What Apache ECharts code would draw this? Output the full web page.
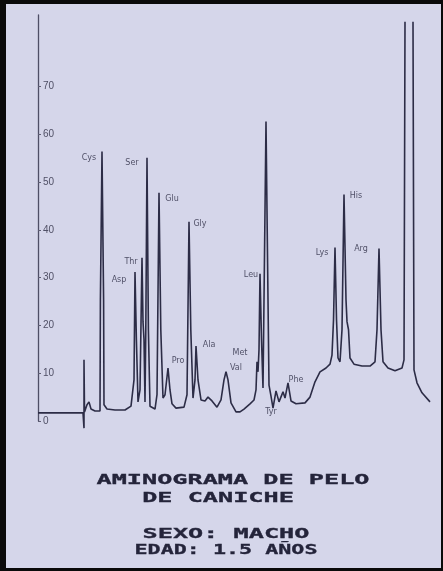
<!DOCTYPE html>
<html>
<head>
<meta charset="utf-8">
<script src="https://cdn.jsdelivr.net/npm/echarts@6/dist/echarts.min.js"></script>
<style>
html,body{margin:0;padding:0;background:#d5d6ea;}
#c{width:443px;height:571px;}
</style>
</head>
<body>
<div id="c"></div>
<script>
// Retention position (arbitrary units) and detector signal
const traceTime = [0,11.25,11.5,11.5,11.63,12.25,12.75,13.25,14.25,15.5,15.6,16,16.4,16.5,17.25,19.25,21.75,23.25,24,24.25,24.6,25,25.5,26,26.25,26.5,26.75,26.95,27.25,27.6,28,29.25,29.75,30.25,30.7,31.25,31.75,32.5,33,33.5,34.5,36.5,37.25,37.75,38.2,38.75,39.25,39.5,40,40.75,41.75,42.5,43.5,44.75,45.75,46.5,47,47.5,48.25,49.5,50.5,51.5,53,54,54.5,54.75,55,55.25,55.5,55.88,56.25,56.5,57,57.5,57.75,58.25,58.75,59.5,60.25,61.25,61.75,62.5,63.25,64.5,66.75,68,69.25,70.5,72,73,73.5,73.88,74.25,74.63,75,75.5,76,76.5,77,77.25,77.63,78,79,81,83,84.25,84.75,85.25,85.75,86.25,87.5,89.25,91,91.5,91.75,92.75,93.75,94,94.75,96,98];
const traceSignal = [1.7,1.7,-1.5,12.8,1.9,3.4,4.0,2.5,2.1,2.1,25.4,56.4,25.4,3.4,2.5,2.3,2.3,3.1,8.6,31.2,17,4.0,6.5,34.2,20.8,17.0,4.0,19.1,55.1,19.1,3.1,2.5,5.5,47.8,19.1,4.8,5.5,11.1,6.5,3.6,2.7,2.9,5.5,41.7,19.1,4.8,8.6,15.7,8.6,4.4,4.2,5.0,4.2,2.9,4.4,8.6,10.3,8.6,3.8,1.9,1.9,2.5,3.6,4.4,6.5,12.4,10.3,14.9,30.8,17,6.9,25.4,62.7,25.4,7.5,5.2,2.7,6.3,4.0,6.1,4.8,8.0,4.2,3.6,3.8,5.0,8.2,10.3,11.1,11.9,13.8,21.2,36.3,21.2,13.2,12.4,19.1,47.4,25.4,20.8,19.1,13.2,11.9,11.5,11.5,12.4,19.1,36.1,19.1,12.4,11.1,10.5,11.1,12.8,83.6,null,83.6,10.7,8.0,5.9,4.0];

// Peak annotations (amino acid names) and their anchor points in data units
const peakNames = ['Cys','Ser','Glu','Gly','Thr','Asp','Pro','Ala','Met','Val','Leu','Tyr','Phe','Lys','His','Arg'];
const peakLabelTime = [12.75,23.5,33.5,40.5,23.25,20.25,35,42.75,50.5,49.5,53.25,58.25,64.5,71,79.5,80.75];
const peakLabelSignal = [55.1,54.1,46.5,41.3,33.3,29.6,12.6,15.9,14.3,11.1,30.6,2.0,8.6,35.2,47.2,36.1];

const yTicks = [0,10,20,30,40,50,60,70];
const titleLines = ['AMINOGRAMA DE PELO','DE CANICHE','SEXO: MACHO','EDAD: 1.5 AÑOS'];

const lineData = traceTime.map((t,i)=> traceSignal[i]===null ? [t,null] : [t,traceSignal[i]]);
const labelData = peakNames.map((n,i)=>[peakLabelTime[i],peakLabelSignal[i],n]);

const chart = echarts.init(document.getElementById('c'), null, {renderer:'canvas'});
const titleFont = 'bold 14px "DejaVu Sans Mono"';
const titleFill = '#24243a';
function titleText(i,x,y,sx){
  return {type:'text',x:x,y:y,scaleX:sx,style:{text:titleLines[i],x:0,y:0,textAlign:'center',textVerticalAlign:'middle',align:'center',verticalAlign:'middle',font:titleFont,fill:titleFill,stroke:titleFill,lineWidth:0.3}};
}
chart.setOption({
  backgroundColor:'#d5d6ea',
  animation:false,
  grid:{left:38,right:5,top:15,bottom:150,containLabel:false},
  xAxis:{type:'value',min:0,max:100,show:false},
  yAxis:{type:'value',min:0,max:85,interval:10,
    axisLine:{show:true,lineStyle:{color:'#4e4e66',width:1.3}},
    axisTick:{show:true,inside:true,length:3,customValues:yTicks,lineStyle:{color:'#5e5e74'}},
    splitLine:{show:false},
    axisLabel:{inside:true,margin:5,customValues:yTicks,color:'#505066',fontSize:10,fontFamily:'Liberation Sans',
      formatter:v=>String(v)}
  },
  series:[
    {type:'line',data:lineData,symbol:'none',connectNulls:false,clip:false,
     lineStyle:{color:'#2c2c46',width:1.6},z:3},
    {type:'scatter',data:labelData,symbolSize:0,silent:true,z:4,
     label:{show:true,position:'inside',formatter:p=>p.data[2],color:'#2e2e46',fontSize:8,fontFamily:'DejaVu Sans'}}
  ],
  graphic:[
    titleText(0,233,480,1.8),
    titleText(1,218,498,1.8),
    titleText(2,226,534,1.8),
    titleText(3,226,550,1.55),
    {type:'rect',shape:{x:0,y:0,width:6,height:571},style:{fill:'#0a0a0a'}},
    {type:'rect',shape:{x:0,y:0,width:443,height:4},style:{fill:'#0a0a0a'}},
    {type:'rect',shape:{x:0,y:568,width:443,height:3},style:{fill:'#0a0a0a'}},
    {type:'rect',shape:{x:441,y:0,width:2,height:571},style:{fill:'#0a0a0a'}}
  ]
});
</script>
</body>
</html>
